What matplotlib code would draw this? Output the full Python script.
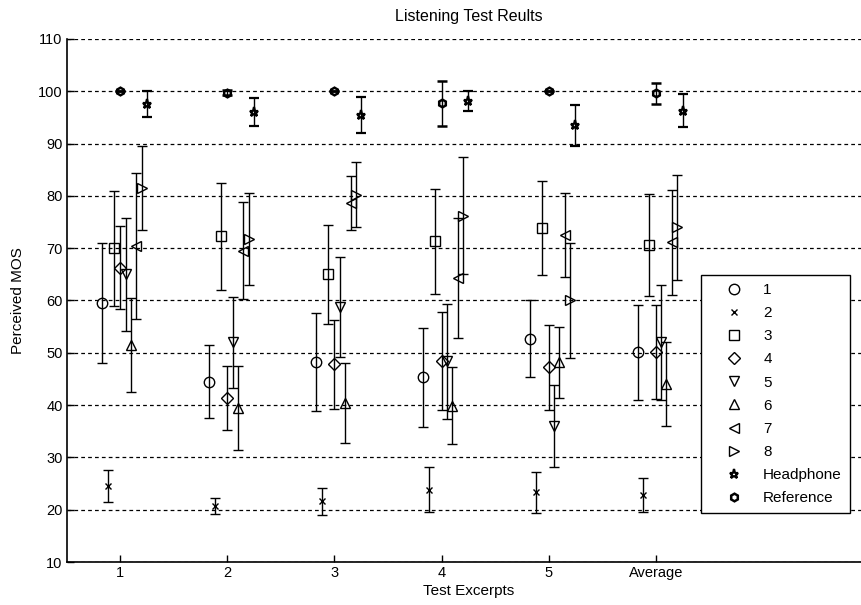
import numpy as np
import matplotlib.pyplot as plt
from matplotlib.lines import Line2D

plt.rcParams['font.family'] = ['Liberation Sans', 'DejaVu Sans']

# Test excerpts (x positions 1..6)
excerpts = ["1", "2", "3", "4", "5", "Average"]
series = ["1", "2", "3", "4", "5", "6", "7", "8", "Headphone", "Reference"]
markers = ["o", "x", "s", "D", "v", "^", "<", ">", "*", "h"]

# Mean MOS per excerpt, one list per series
mos_1 = [59.5, 44.5, 48.2, 45.3, 52.7, 50.1]
mos_2 = [24.5, 20.7, 21.6, 23.8, 23.3, 22.8]
mos_3 = [70.0, 72.3, 65.0, 71.3, 73.9, 70.6]
mos_4 = [66.3, 41.3, 47.8, 48.4, 47.2, 50.2]
mos_5 = [65.0, 52.0, 58.8, 48.4, 36.0, 52.0]
mos_6 = [51.5, 39.4, 40.4, 39.9, 48.2, 44.0]
mos_7 = [70.4, 69.5, 78.6, 64.3, 72.5, 71.1]
mos_8 = [81.5, 71.8, 80.2, 76.2, 60.0, 74.0]
mos_hp = [97.5, 96.0, 95.5, 98.1, 93.5, 96.3]
mos_ref = [100.0, 99.7, 100.0, 97.7, 100.0, 99.6]

# Half-width of the confidence intervals
err_1 = [11.5, 7.0, 9.4, 9.5, 7.3, 9.1]
err_2 = [3.0, 1.5, 2.6, 4.3, 4.0, 3.2]
err_3 = [11.0, 10.2, 9.5, 10.0, 9.0, 9.8]
err_4 = [8.0, 6.1, 8.5, 9.4, 8.2, 9.0]
err_5 = [10.8, 8.7, 9.6, 11.0, 7.8, 11.0]
err_6 = [9.0, 8.0, 7.7, 7.3, 6.8, 8.0]
err_7 = [14.0, 9.3, 5.2, 11.4, 8.0, 10.0]
err_8 = [8.0, 8.8, 6.2, 11.2, 11.0, 10.0]
err_hp = [2.5, 2.7, 3.5, 1.9, 3.9, 3.1]
err_ref = [0.0, 0.5, 0.0, 4.3, 0.0, 2.0]

means = [mos_1, mos_2, mos_3, mos_4, mos_5, mos_6, mos_7, mos_8, mos_hp, mos_ref]
errs = [err_1, err_2, err_3, err_4, err_5, err_6, err_7, err_8, err_hp, err_ref]
offsets = [-0.17, -0.115, -0.06, 0.0, 0.05, 0.1, 0.15, 0.2, 0.25, 0.0]
msizes = [7.5, 4, 7.5, 6, 7.5, 7.5, 7.5, 7.5, 6.5, 5.5]
mews = [1.0, 1.0, 1.0, 1.0, 1.0, 1.0, 1.0, 1.0, 1.6, 1.8]

fig = plt.figure(figsize=(8.62, 6.05), dpi=100)
ax = fig.add_axes([66.7 / 862, 43 / 605, (870 - 66.7) / 862, 523 / 605])

x = np.arange(1, len(excerpts) + 1)
for m, e, off, mk, ms, mw in zip(means, errs, offsets, markers, msizes, mews):
    ax.errorbar(x + off, m, yerr=e, fmt=mk, color="black", mfc="none",
                mec="black", ms=ms, mew=mw, elinewidth=1.0, capsize=3.5,
                capthick=1.0)

ax.set_xlim(0.5, 8.0)
ax.set_ylim(10, 110)
ax.set_xticks(x)
ax.set_xticklabels(excerpts)
ax.set_yticks(np.arange(10, 111, 10))
ax.tick_params(direction="in", length=5, labelsize=10.5, width=1, pad=3)
ax.yaxis.grid(True, color="black", linestyle=(0, (3, 2.5)), linewidth=0.9)
ax.set_axisbelow(True)
for s in ["top", "right"]:
    ax.spines[s].set_visible(False)
for s in ["left", "bottom"]:
    ax.spines[s].set_linewidth(1.2)

ax.set_title("Listening Test Reults", fontsize=11.5, pad=13)
ax.set_xlabel("Test Excerpts", fontsize=11, labelpad=3)
ax.set_ylabel("Perceived MOS", fontsize=11, labelpad=9)

handles = [Line2D([], [], marker=mk, linestyle="none", color="black",
                  mfc="none", ms=ms, mew=mw)
           for mk, ms, mw in zip(markers, msizes, mews)]
leg = ax.legend(handles, series, loc="lower left",
                bbox_to_anchor=(0.79, 0.0935), fontsize=11,
                labelspacing=0.6, handletextpad=0.25, borderpad=0.5,
                fancybox=False, framealpha=1, edgecolor="black",
                borderaxespad=0, handlelength=3.3)
leg.get_frame().set_linewidth(1.0)

fig.savefig("out.png", dpi=100)
